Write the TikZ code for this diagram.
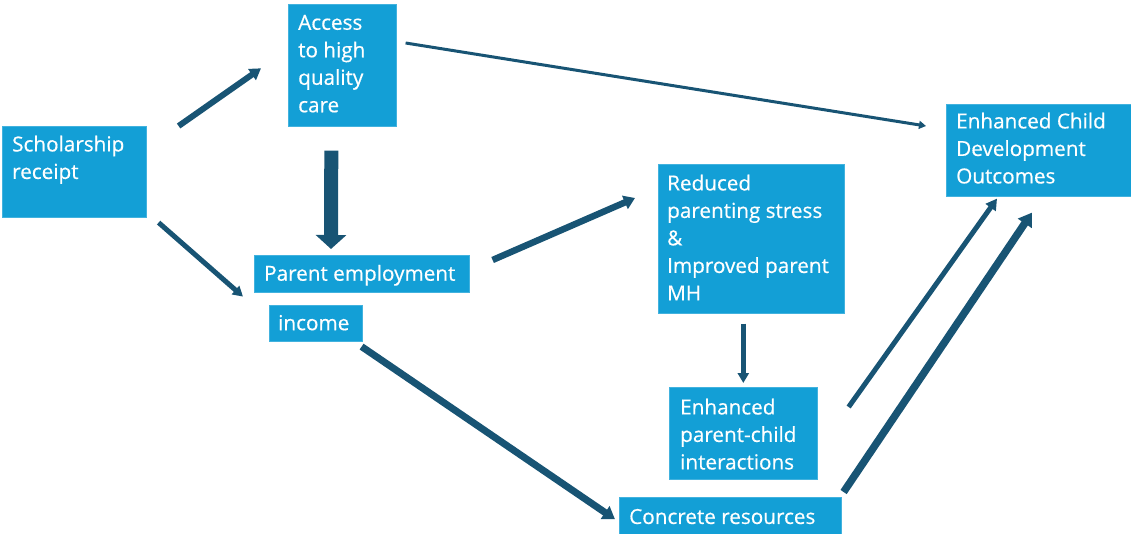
\documentclass[tikz,border=0pt]{standalone}
\usepackage{fontspec}
\setmainfont{Open Sans}
\newfontfamily\boxfont{Open Sans}[FakeBold=0.5]
\usepackage{xcolor}
\usepackage{tikz}
\usetikzlibrary{arrows.meta,positioning,calc}
\definecolor{boxblue}{RGB}{19,159,214}
\definecolor{arrowblue}{RGB}{24,84,116}
\begin{document}
\begin{tikzpicture}[x=1pt,y=-1pt,
  box/.style={fill=boxblue, draw=boxblue!80!white, line width=0.6pt, inner sep=0pt, anchor=north west},
  txt/.style={text=white, font=\boxfont\fontsize{20.7}{27.5}\selectfont, align=left, anchor=north west, inner sep=0pt, execute at begin node=\strut},
  arr/.style n args={3}{draw=arrowblue, line width=#1, -{Triangle[width=#2,length=#3]}}]

\useasboundingbox (0,0) rectangle (1131,534);

%Boxes
\node[box, minimum width=144pt, minimum height=91pt] (sch) at (2,126) {};
\node[box, minimum width=108pt, minimum height=122pt] (acc) at (288,4) {};
\node[box, minimum width=215pt, minimum height=37pt] (emp) at (254,255) {};
\node[box, minimum width=93pt, minimum height=36pt] (inc) at (269,305) {};
\node[box, minimum width=186pt, minimum height=149pt] (red) at (658,164) {};
\node[box, minimum width=148pt, minimum height=92pt] (epc) at (669,387) {};
\node[box, minimum width=222pt, minimum height=45pt] (con) at (619,497) {};
\node[box, minimum width=195pt, minimum height=92pt] (ec) at (946,104) {};

%Texts
\node[txt] (sch-t) at ([shift={(10,9.5)}]sch.north west) {Scholarship\\receipt};
\node[txt] (acc-t) at ([shift={(10,10.75)}]acc.north west) {Access\\to high\\quality\\care};
\node[txt] (emp-t) at ([shift={(10,6.25)}]emp.north west) {Parent employment};
\node[txt] (inc-t) at ([shift={(9,5.75)}]inc.north west) {income};
\node[txt] (red-t) at ([shift={(9,10.5)}]red.north west) {Reduced\\parenting stress\\\&\\Improved parent\\MH};
\node[txt] (epc-t) at ([shift={(11,11.5)}]epc.north west) {Enhanced\\parent-child\\interactions};
\node[txt] (con-t) at ([shift={(10,7.5)}]con.north west) {Concrete resources};
\node[txt] (ec-t) at ([shift={(10,8.5)}]ec.north west) {Enhanced Child\\Development\\Outcomes};

%Arrows
\draw[arr={6pt}{13pt}{11pt}] ([shift={(32,0)}]sch.north east) -- ([shift={(-27,3)}]acc.west);
\draw[arr={5pt}{11pt}{10pt}] ([shift={(12,5)}]sch.south east) -- ([shift={(-11,4)}]emp.south west);
\draw[arr={14pt}{30pt}{14pt}] ([shift={(-11,24)}]acc.south) -- ([shift={(77,-6)}]emp.north west);
\draw[arr={3pt}{8pt}{7pt}] ([shift={(9,39)}]acc.north east) -- ([shift={(-20,22)}]ec.north west);
\draw[arr={6.5pt}{14pt}{11pt}] ([shift={(23,5)}]emp.north east) -- ([shift={(-23,34)}]red.north west);
\draw[arr={5pt}{11pt}{10pt}] ([shift={(-8,10)}]red.south) -- ([shift={(0,-4)}]epc.north);
\draw[arr={7pt}{15pt}{12pt}] ([shift={(-1,5)}]inc.south east) -- ([shift={(-4,-0.5)}]con.west);
\draw[arr={5pt}{12pt}{11pt}] ([shift={(31,20)}]epc.north east) -- ([shift={(51,2)}]ec.south west);
\draw[arr={7.5pt}{16pt}{13pt}] ([shift={(2,-5)}]con.north east) -- ([shift={(86,16)}]ec.south west);

\end{tikzpicture}
\end{document}
